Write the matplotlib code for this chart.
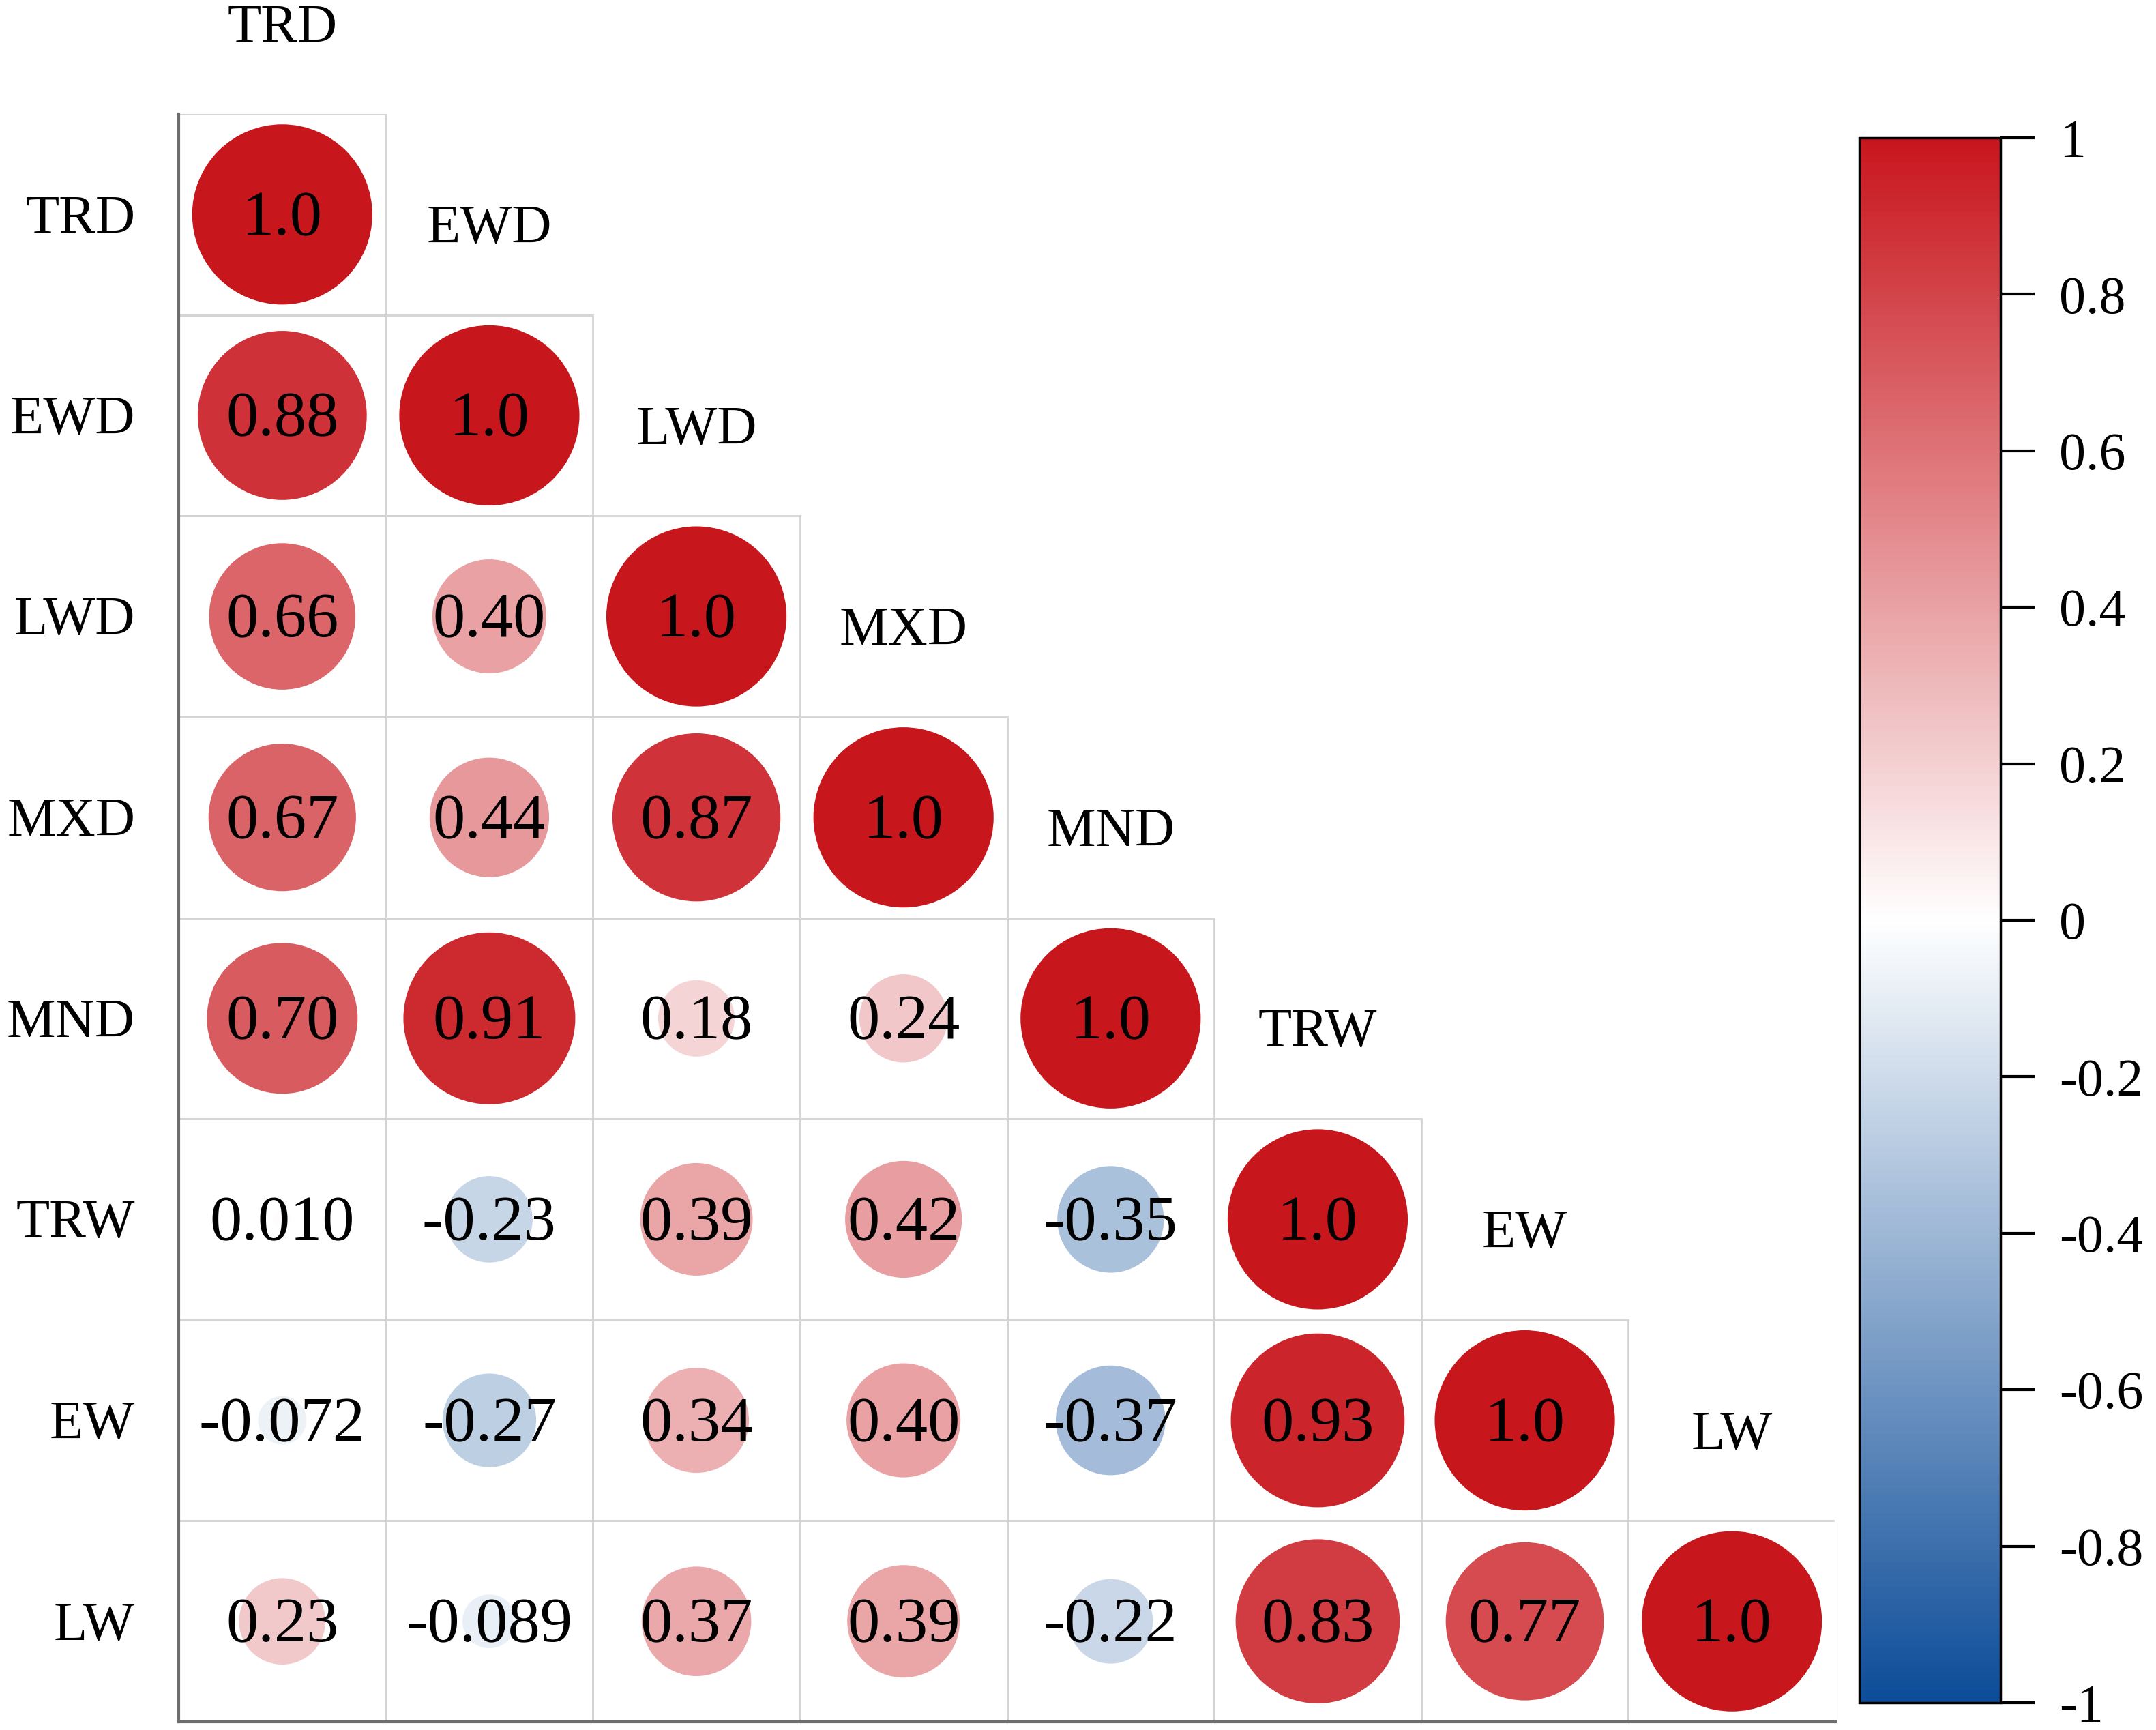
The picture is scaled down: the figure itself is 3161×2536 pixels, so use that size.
import numpy as np
import matplotlib
matplotlib.use("Agg")
import matplotlib.pyplot as plt
from matplotlib.patches import Ellipse, Rectangle
from matplotlib.colors import LinearSegmentedColormap, Normalize
from matplotlib.cm import ScalarMappable

plt.rcParams['font.family'] = ['Liberation Serif', 'DejaVu Serif']

# variables and lower-triangle correlations (row by row)
names = ['TRD', 'EWD', 'LWD', 'MXD', 'MND', 'TRW', 'EW', 'LW']
row_TRD = [1.0]
row_EWD = [0.88, 1.0]
row_LWD = [0.66, 0.40, 1.0]
row_MXD = [0.67, 0.44, 0.87, 1.0]
row_MND = [0.70, 0.91, 0.18, 0.24, 1.0]
row_TRW = [0.010, -0.23, 0.39, 0.42, -0.35, 1.0]
row_EW = [-0.072, -0.27, 0.34, 0.40, -0.37, 0.93, 1.0]
row_LW = [0.23, -0.089, 0.37, 0.39, -0.22, 0.83, 0.77, 1.0]
rows = [row_TRD, row_EWD, row_LWD, row_MXD, row_MND, row_TRW, row_EW, row_LW]

cbar_ticks = [1, 0.8, 0.6, 0.4, 0.2, 0, -0.2, -0.4, -0.6, -0.8, -1]
cbar_labels = ['1', '0.8', '0.6', '0.4', '0.2', '0', '-0.2', '-0.4', '-0.6', '-0.8', '-1']

cmap = LinearSegmentedColormap.from_list('bwr_corr', ['#0C4C98', '#FFFFFF', '#C8161D'], N=256)
norm = Normalize(-1, 1)


def fmt(v):
    if v == 1.0:
        return '1.0'
    if abs(v) < 0.1:
        return '%.3f' % v
    return '%.2f' % v


W, H = 3161, 2536
fig = plt.figure(figsize=(W / 100, H / 100), dpi=100)

# grid axes
left, right, top, bottom = 262, 2691, 167, 2524
ax = fig.add_axes([left / W, 1 - bottom / H, (right - left) / W, (bottom - top) / H])
n = len(names)
ax.set_xlim(0, n)
ax.set_ylim(n, 0)
ax.axis('off')

# ratio to keep circles round
cell_w = (right - left) / n
cell_h = (bottom - top) / n
ratio = cell_w / cell_h
dy = 0.025  # text sits slightly low in the cells

for i, vals in enumerate(rows):
    for j, v in enumerate(vals):
        ax.add_patch(Rectangle((j, i), 1, 1, fill=False, edgecolor='#D4D4D4', lw=2, zorder=1))
        d = 0.87 * np.sqrt(abs(v))
        ax.add_patch(Ellipse((j + 0.5, i + 0.5), d, d * ratio, facecolor=cmap(norm(v)),
                             edgecolor='none', zorder=2))
        ax.text(j + 0.5, i + 0.5 + dy, fmt(v), ha='center', va='center', fontsize=68, zorder=3)

# left and bottom axis lines
ax.plot([0, 0], [0, n], color='#6E6E6E', lw=3, clip_on=False, zorder=4)
ax.plot([0, n], [n, n], color='#6E6E6E', lw=3, clip_on=False, zorder=4)

# row labels and diagonal column labels
for k, name in enumerate(names):
    ax.text(-0.21, k + 0.5 + dy, name, ha='right', va='center', fontsize=58, clip_on=False)
    ax.text(k + 0.5, k - 0.5 + 0.05 + dy, name, ha='center', va='center', fontsize=58, clip_on=False)

# colorbar
cax = fig.add_axes([2726 / W, 1 - 2496 / H, (2933 - 2726) / W, (2496 - 202) / H])
sm = ScalarMappable(norm=norm, cmap=cmap)
cb = fig.colorbar(sm, cax=cax)
cb.set_ticks(cbar_ticks)
cb.set_ticklabels(cbar_labels)
cb.outline.set_linewidth(2.5)
cb.outline.set_edgecolor('black')
cax.tick_params(length=36, width=3, labelsize=56, pad=26, color='black')

fig.savefig('out.png', dpi=100)
